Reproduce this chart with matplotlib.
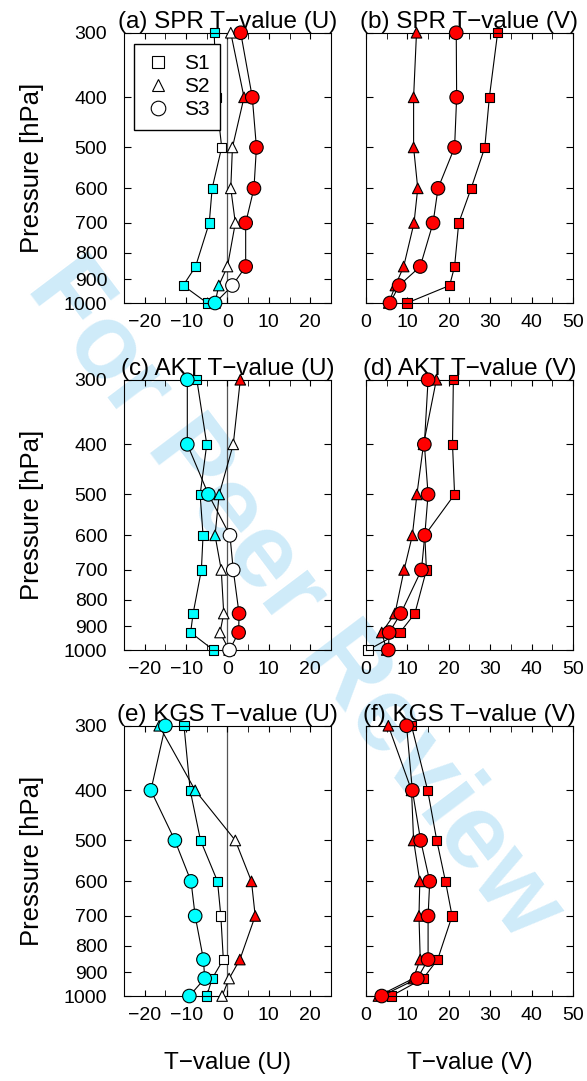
import matplotlib.pyplot as plt
import numpy as np

plt.rcParams['font.family'] = ['Liberation Sans', 'DejaVu Sans']

levels = [300, 400, 500, 600, 700, 850, 925, 1000]
series = ['S1', 'S2', 'S3']
markers = ['s', '^', 'o']
msize = [44, 58, 95]

# t-values, rows = S1, S2, S3 ; sig = 1 when significant
spr_u = [[-3.2, -2.7, -1.4, -3.7, -4.4, -7.7, -10.7, -4.9],
         [0.8, 4.0, 1.2, 0.8, 1.9, 0.0, -2.1, -3.0],
         [3.2, 6.0, 7.0, 6.4, 4.4, 4.4, 1.2, -3.0]]
spr_u_sig = [[1, 1, 0, 1, 1, 1, 1, 1], [0, 1, 0, 0, 0, 0, 1, 1], [1, 1, 1, 1, 1, 1, 0, 1]]

spr_v = [[31.8, 29.8, 28.7, 25.4, 22.4, 21.4, 20.2, 9.9],
         [12.2, 11.5, 11.5, 12.5, 11.6, 9.1, 7.1, 5.5],
         [21.8, 21.9, 21.4, 17.4, 16.2, 13.1, 8.0, 5.8]]
spr_v_sig = [[1] * 8, [1] * 8, [1] * 8]

akt_u = [[-7.4, -5.0, -6.6, -5.9, -6.3, -8.3, -8.9, -3.4],
         [3.1, 1.4, -2.0, -3.0, -1.5, -0.9, -1.8, 0.4],
         [-9.7, -9.7, -4.6, 0.6, 1.4, 2.8, 2.7, 0.5]]
akt_u_sig = [[1] * 8, [1, 0, 1, 1, 0, 0, 0, 0], [1, 1, 1, 0, 0, 1, 1, 0]]

akt_v = [[21.1, 20.9, 21.4, 14.2, 14.6, 11.8, 8.2, 0.5],
         [17.0, 13.9, 12.3, 11.2, 9.2, 7.0, 3.8, 5.0],
         [15.0, 14.1, 15.0, 14.2, 13.4, 8.4, 5.6, 5.4]]
akt_v_sig = [[1, 1, 1, 1, 1, 1, 1, 0], [1] * 8, [1] * 8]

kgs_u = [[-10.5, -9.0, -6.5, -2.4, -1.6, -1.0, -3.7, -5.0],
         [-16.5, -7.8, 1.9, 5.8, 6.7, 3.0, 0.4, -1.3],
         [-15.0, -18.5, -12.7, -8.8, -7.8, -5.8, -5.5, -9.2]]
kgs_u_sig = [[1, 1, 1, 1, 0, 0, 1, 1], [1, 1, 0, 1, 1, 1, 0, 0], [1] * 8]

kgs_v = [[11.0, 14.9, 17.1, 19.2, 20.8, 17.3, 13.8, 6.1],
         [5.4, 11.0, 11.5, 13.0, 12.8, 13.1, 11.4, 3.0],
         [9.8, 11.2, 13.2, 15.4, 15.0, 15.0, 12.4, 3.8]]
kgs_v_sig = [[1] * 8, [1] * 8, [1] * 8]

panels = [
    ('(a) SPR T\u2212value (U)', spr_u, spr_u_sig, 'U'),
    ('(b) SPR T\u2212value (V)', spr_v, spr_v_sig, 'V'),
    ('(c) AKT T\u2212value (U)', akt_u, akt_u_sig, 'U'),
    ('(d) AKT T\u2212value (V)', akt_v, akt_v_sig, 'V'),
    ('(e) KGS T\u2212value (U)', kgs_u, kgs_u_sig, 'U'),
    ('(f) KGS T\u2212value (V)', kgs_v, kgs_v_sig, 'V'),
]

fig = plt.figure(figsize=(5.87, 10.81), dpi=100)
# watermark
fig.text(0.50, 0.445, 'For Peer Review', rotation=-53, fontsize=76, fontweight='bold',
         color='#cfebf9', ha='center', va='center', zorder=-5)

lefts = [0.2112, 0.6235]
bottoms = [0.7197, 0.3987, 0.0786]
w, h = 0.3526, 0.2500

for k, (title, vals, sig, comp) in enumerate(panels):
    row, col = k // 2, k % 2
    ax = fig.add_axes([lefts[col], bottoms[row], w, h])
    ax.set_facecolor('none')
    for i in range(3):
        x = np.array(vals[i])
        s = np.array(sig[i])
        colors = ['red' if (s[j] and x[j] > 0) else ('cyan' if s[j] else 'white')
                  for j in range(len(x))]
        ax.plot(x, levels, '-', color='black', lw=0.8, zorder=2 + i)
        ax.scatter(x, levels, marker=markers[i], s=msize[i], facecolors=colors,
                   edgecolors='black', linewidths=0.8, zorder=2.5 + i, clip_on=False)
    ax.set_yscale('log')
    ax.set_ylim(1000, 300)
    ax.set_yticks([300, 400, 500, 600, 700, 800, 900, 1000])
    ax.yaxis.set_minor_locator(plt.NullLocator())
    if comp == 'U':
        ax.axvline(0, color='#555555', lw=0.9, zorder=1)
        ax.set_xlim(-25, 25)
        ax.set_xticks([-20, -10, 0, 10, 20])
        ax.set_xticks(np.arange(-25, 26, 5), minor=True)
        ax.set_yticklabels(['300', '400', '500', '600', '700', '800', '900', '1000'])
        ax.set_ylabel('Pressure [hPa]', fontsize=18.5, labelpad=14)
    else:
        ax.set_xlim(0, 50)
        ax.set_xticks([0, 10, 20, 30, 40, 50])
        ax.set_xticks(np.arange(0, 51, 5), minor=True)
        ax.set_yticklabels([])
    ax.tick_params(which='both', direction='in', top=True, right=True, labelsize=14)
    ax.tick_params(axis='x', which='both', length=4, pad=8)
    ax.tick_params(axis='y', which='major', length=5, pad=12)
    ax.set_title(title, fontsize=17.5, pad=1)
    if row == 2:
        ax.set_xlabel('T\u2212value (%s)' % comp, fontsize=17.5, labelpad=20)
    if k == 0:
        handles = [plt.Line2D([], [], ls='none', marker=markers[i], markersize=[8, 9, 10.5][i],
                              mfc='white', mec='black', mew=0.8) for i in range(3)]
        ax.legend(handles, series, loc='upper left', bbox_to_anchor=(0.05, 0.96),
                  borderaxespad=0, fontsize=15, frameon=True, fancybox=False,
                  edgecolor='black', framealpha=1, handletextpad=0.6, borderpad=0.5,
                  labelspacing=0.2, handlelength=1.3)

plt.savefig('out.png', dpi=100)
